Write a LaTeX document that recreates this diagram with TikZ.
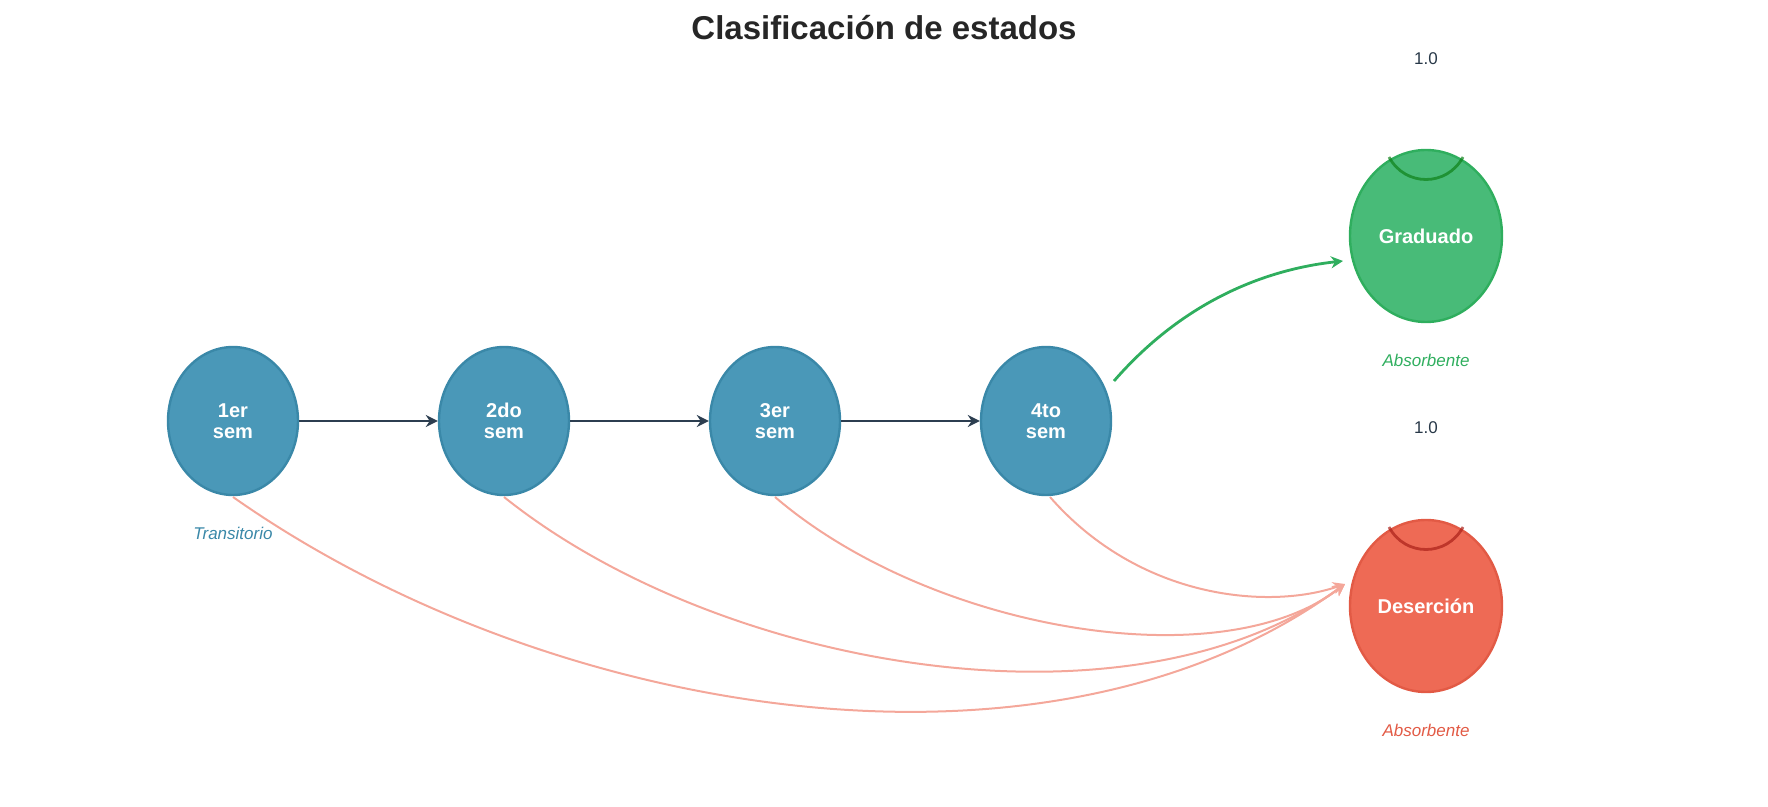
\documentclass[tikz,border=0pt]{standalone}
\usepackage{fontspec}
\setmainfont{Liberation Sans}
\usetikzlibrary{arrows.meta,shapes.geometric}
\definecolor{sblue}{HTML}{4A98B8}
\definecolor{sblueb}{HTML}{3A88A8}
\definecolor{sgreen}{HTML}{48BB78}
\definecolor{sgreenb}{HTML}{2FAE5E}
\definecolor{sred}{HTML}{EE6A55}
\definecolor{sredb}{HTML}{E25A45}
\definecolor{spink}{HTML}{F4A79A}
\definecolor{sdark}{HTML}{2C3E50}
\tikzset{
 semnode/.style={ellipse,draw=sblueb,fill=sblue,line width=1.2pt,minimum width=65pt,minimum height=74pt,inner sep=0pt,text=white,font=\bfseries\fontsize{10}{10.5}\selectfont,align=center},
 absnode/.style={ellipse,line width=1.2pt,minimum width=76pt,minimum height=86pt,inner sep=0pt,text=white,font=\bfseries\fontsize{10}{12}\selectfont},
 fwd/.style={draw=sdark,line width=1.3pt,-{Stealth[length=6pt,width=6pt]}},
 drop/.style={draw=spink,line width=1pt,-{Stealth[length=6pt,width=6pt]}},
 lbl/.style={font=\itshape\fontsize{8.5}{10}\selectfont},
 num/.style={font=\fontsize{8.5}{10}\selectfont,text=sdark!90!black}
}
\begin{document}
\begin{tikzpicture}[x=0.5pt,y=-0.5pt]
\useasboundingbox (0,0) rectangle (1768,807);
\node[font=\bfseries\fontsize{16.5}{18}\selectfont,text=black!85] (title) at (884,28) {Clasificación de estados};
\node[semnode] (s1) at (233,421) {1er\\sem};
\node[semnode] (s2) at (504,421) {2do\\sem};
\node[semnode] (s3) at (775,421) {3er\\sem};
\node[semnode] (s4) at (1046,421) {4to\\sem};
\node[absnode,draw=sgreenb,fill=sgreen] (g) at (1426,236) {Graduado};
\node[absnode,draw=sredb,fill=sred] (d) at (1426,606) {Deserción};
\node[num] (n1) at (1426,59) {1.0};
\node[num] (n2) at (1426,428) {1.0};
\node[lbl,text=sgreenb] (ag) at (1426,360) {Absorbente};
\node[lbl,text=sredb] (ad) at (1426,730) {Absorbente};
\node[lbl,text=sblueb] (tr) at (233,533) {Transitorio};
\draw[fwd] (s1) -- (s2);
\draw[fwd] (s2) -- (s3);
\draw[fwd] (s3) -- (s4);
\coordinate (gs) at (1114,381);
\coordinate (ge) at (1343,261);
\draw[draw=sgreenb,line width=1.4pt,-{Stealth[length=6pt,width=6pt]}] (gs) .. controls (1180,305) and (1260,270) .. (ge);
\coordinate (de) at (1345,584);
\coordinate (b1) at (233,497);
\coordinate (b2) at (504,497);
\coordinate (b3) at (775,497);
\coordinate (b4) at (1050,497);
\draw[drop] (b1) .. controls (550,720) and (1050,800) .. (de);
\draw[drop] (b2) .. controls (720,670) and (1130,740) .. (de);
\draw[drop] (b3) .. controls (930,630) and (1220,680) .. (de);
\draw[drop] (b4) .. controls (1140,600) and (1270,610) .. (de);
\coordinate (la) at (1389,157); \coordinate (lb) at (1463,157);
\draw[draw=green!45!black!80!sgreen,line width=1.4pt,opacity=0.7] (la) .. controls (1405,187) and (1447,187) .. (lb);
\coordinate (lc) at (1389,527); \coordinate (ld) at (1463,527);
\draw[draw=red!55!black!70!sred,line width=1.4pt,opacity=0.7] (lc) .. controls (1405,557) and (1447,557) .. (ld);
\end{tikzpicture}
\end{document}
